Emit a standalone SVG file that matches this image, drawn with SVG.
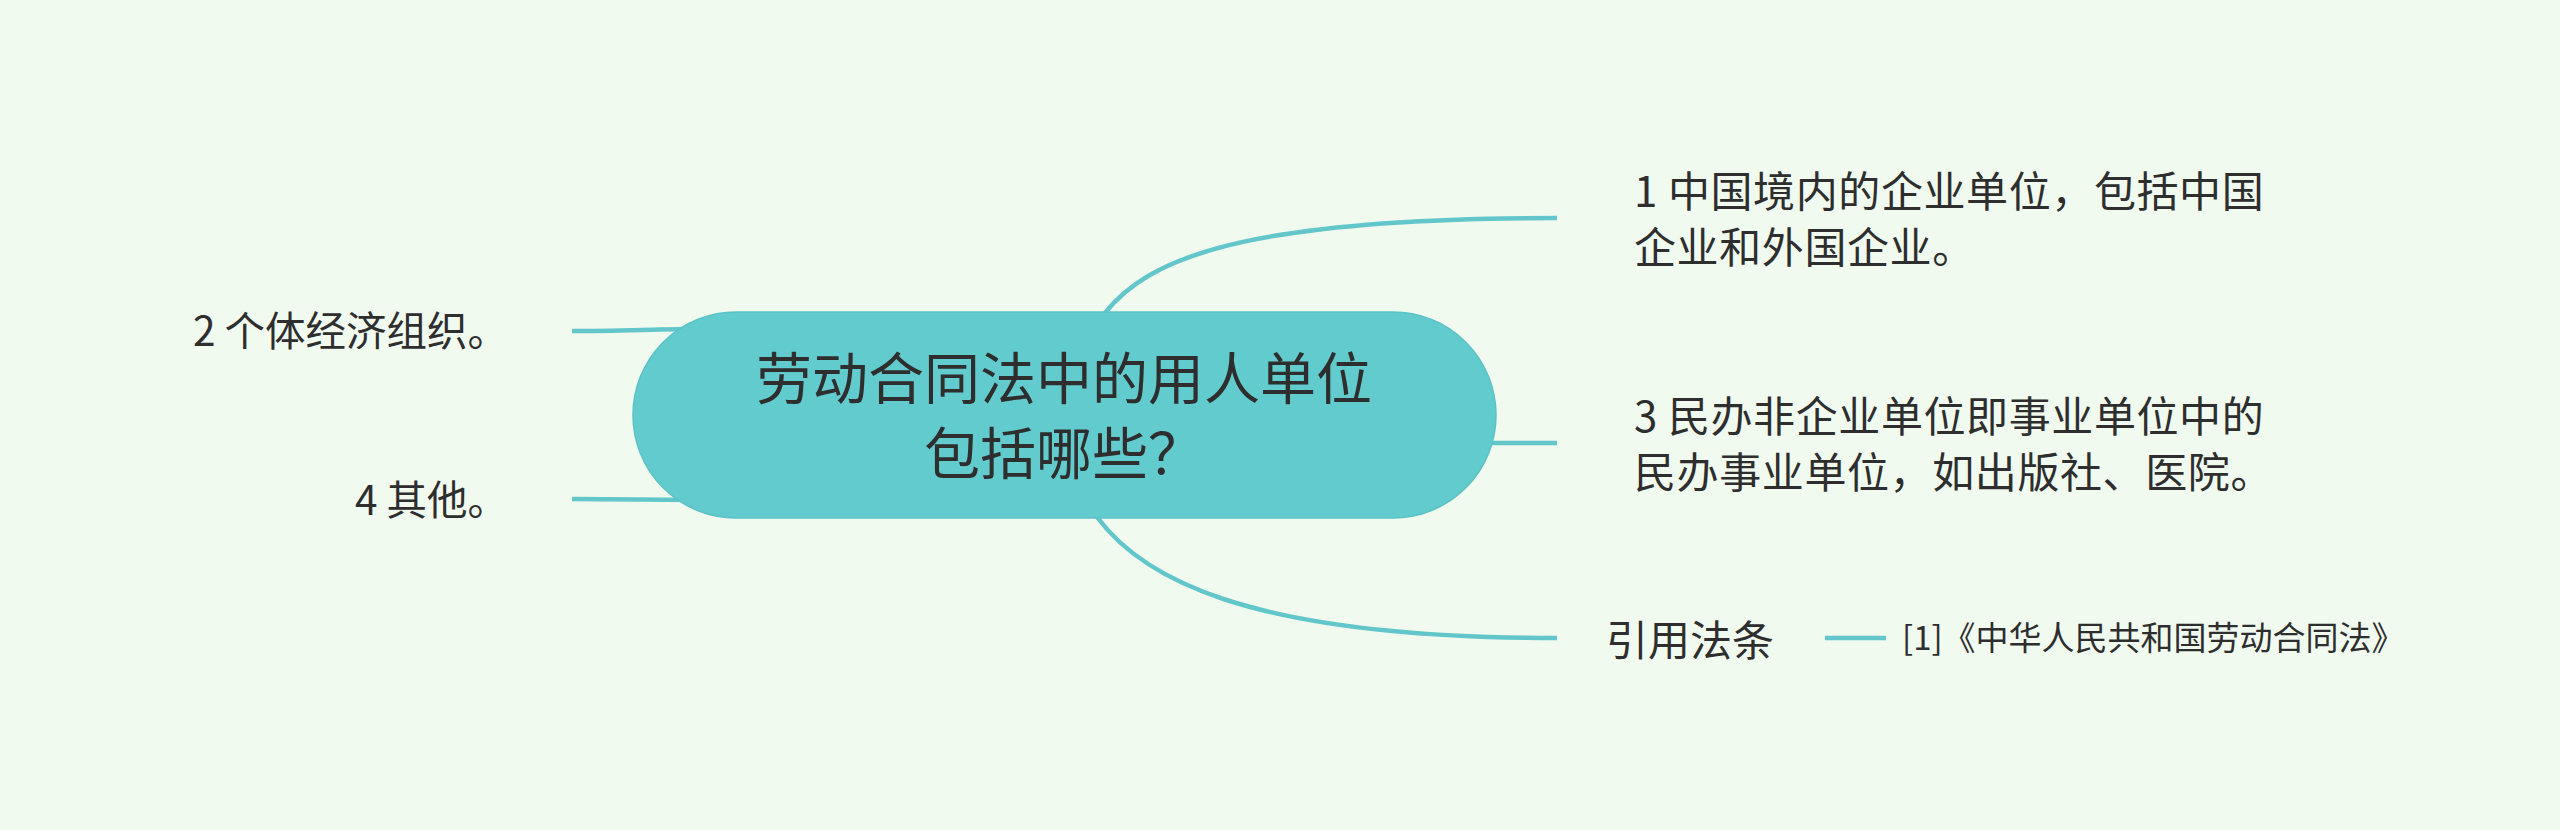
<svg xmlns="http://www.w3.org/2000/svg" width="2560" height="830" viewBox="0 0 2560 830">
  <style>
    .t { font-family: "Noto Sans CJK SC", "Noto Sans", sans-serif; fill: #2e2e2e; }
    .main { font-size: 56px; }
    .sub { font-size: 42px; }
    .wide { letter-spacing: 0.6px; }
    .left { font-size: 40.5px; }
    .ref { font-size: 33px; }
    .ln { fill: none; stroke: #62c6ca; stroke-width: 4.5; stroke-linecap: butt; }
  </style>
  <rect x="0" y="0" width="2560" height="830" fill="#f0faef"/>
  <g id="connectors">
    <path class="ln" d="M1105 313 C1148 258, 1245 218, 1557 218"/>
    <path class="ln" d="M1470 443 L1557 443"/>
    <path class="ln" d="M1097 517 C1140 575, 1240 638, 1557 638"/>
    <path class="ln" d="M1825 638 L1886 638"/>
    <path class="ln" d="M572 331 C620 331, 660 329, 700 329"/>
    <path class="ln" d="M572 499 C620 499, 660 500, 700 500"/>
  </g>
  <g id="root">
    <rect x="633" y="312" width="863" height="206" rx="103" ry="103" fill="#62cbcd" stroke="#5bc2c5" stroke-width="1.5"/>
    <text class="t main" x="1064" y="399" text-anchor="middle">劳动合同法中的用人单位</text>
    <text class="t main" x="1064" y="474" text-anchor="middle">包括哪些？</text>
  </g>
  <g id="node1">
    <text class="t sub wide" x="1634" y="207">1 中国境内的企业单位，包括中国</text>
    <text class="t sub wide" x="1634" y="263">企业和外国企业。</text>
  </g>
  <g id="node3">
    <text class="t sub wide" x="1634" y="432">3 民办非企业单位即事业单位中的</text>
    <text class="t sub wide" x="1634" y="488">民办事业单位，如出版社、医院。</text>
  </g>
  <g id="node2">
    <text class="t left" x="508" y="346" text-anchor="end">2 个体经济组织。</text>
  </g>
  <g id="node4">
    <text class="t left" x="508" y="515" text-anchor="end">4 其他。</text>
  </g>
  <g id="node-ref">
    <text class="t sub" x="1606" y="656">引用法条</text>
  </g>
  <g id="node-ref-item">
    <text class="t ref" x="1902" y="650">[1]《中华人民共和国劳动合同法》</text>
  </g>
</svg>
